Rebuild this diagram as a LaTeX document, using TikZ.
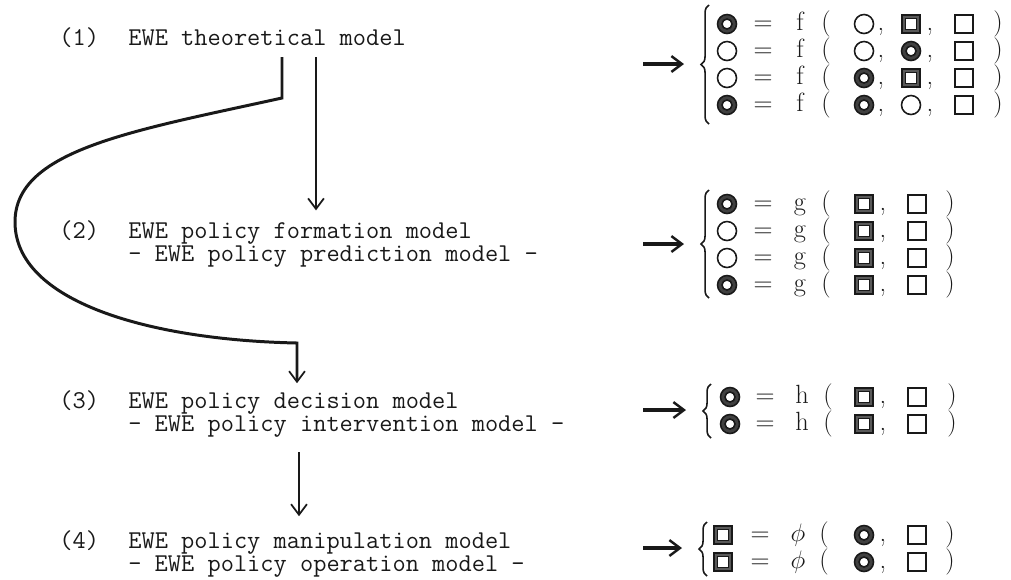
\documentclass[tikz,border=0pt]{standalone}
\usepackage{tikz}
\usetikzlibrary{arrows.meta,decorations.pathreplacing}

% variable symbols of the equation systems
\newcommand{\symocirc}[1]{\draw[symline, shift={#1}] (0,0) circle (9.5);}
\newcommand{\symbcirc}[1]{\filldraw[symline, fill=black!75, even odd rule, shift={#1}]
    (0,0) circle (9.5) (0,0) circle (5);}
\newcommand{\symosq}[1]{\draw[symline, shift={#1}] (-9,-9) rectangle (9,9);}
\newcommand{\symdsq}[1]{\filldraw[symline, fill=black!65, even odd rule, shift={#1}]
    (-9,-9) rectangle (9,9) (-5.5,-5.5) rectangle (5.5,5.5);}

\begin{document}
\begin{tikzpicture}[
    x=0.02cm, y=-0.02cm,
    lbl/.style={font=\fontsize{14.6}{18}\ttfamily, inner sep=0pt, anchor=west,
                text height=0.58em, text depth=0.18em, text=black!90},
    eqt/.style={font=\fontsize{15}{17}\selectfont, inner sep=0pt, anchor=base,
                text=black!90},
    symline/.style={draw=black!90, line width=0.9pt},
    flow/.style={-{Straight Barb[length=6pt, width=9pt, line width=1pt]},
                 line width=1.2pt, draw=black!90},
    bypass/.style={flow, line width=1.7pt},
    into/.style={-{Straight Barb[length=6pt, width=9pt, line width=1.4pt]},
                 line width=2pt, draw=black!90},
    brc/.style={decorate, decoration={brace, amplitude=4.5pt}, line width=0.9pt,
                draw=black!90},
]
\useasboundingbox (0,0) rectangle (1011,579);

%% -- model levels (left column) ------------------------------------------
\node[lbl] (n1)  at (59,42)   {(1)};
\node[lbl] (t1)  at (128,42)  {EWE theoretical model};
\node[lbl] (n2)  at (59,235)  {(2)};
\node[lbl] (t2)  at (128,235) {EWE policy formation model};
\node[lbl] (t2b) at (128,258) {- EWE policy prediction model -};
\node[lbl] (n3)  at (59,405)  {(3)};
\node[lbl] (t3)  at (128,405) {EWE policy decision model};
\node[lbl] (t3b) at (128,428) {- EWE policy intervention model -};
\node[lbl] (n4)  at (59,545)  {(4)};
\node[lbl] (t4)  at (128,545) {EWE policy manipulation model};
\node[lbl] (t4b) at (128,568) {- EWE policy operation model -};

% bends of the connectors
\coordinate (kink)  at (282,98);
\coordinate (elbow) at (297,343);
\coordinate (xs)    at (316,0);
\coordinate (xd)    at (299,0);

\draw[flow, shorten <=4.6pt, shorten >=10pt] (t1.south -| xs) -- (t2.north -| xs);
\draw[bypass, shorten <=4.6pt, shorten >=8.4pt] (t1.south -| kink) -- (kink)
    .. controls (132,131) and (15,150) .. (15,222)
    .. controls (15,302) and (150,340) .. (elbow) -- (t3.north -| elbow);
\draw[flow, shorten <=9.7pt, shorten >=12.4pt] (t3b.south -| xd) -- (t4.north -| xd);

%% -- equation systems (right column) -------------------------------------
\coordinate (a1) at (643,64);  \coordinate (h1) at (684,64);
\coordinate (a2) at (643,244); \coordinate (h2) at (684,244);
\coordinate (a3) at (643,410); \coordinate (h3) at (686,410);
\coordinate (a4) at (643,548); \coordinate (h4) at (682,548);
\foreach \i in {1,...,4}
  \draw[into] (a\i) -- (h\i);

\draw[brc] (709,124) -- (709,5);
\draw[brc] (709,298) -- (709,190);
\draw[brc] (711,438) -- (711,384);
\draw[brc] (707,576) -- (707,522);

% (1) f
\foreach \r/\y/\s/\p/\q in {1/24/bcirc/ocirc/dsq, 2/51/ocirc/ocirc/bcirc,
                            3/78/ocirc/bcirc/dsq, 4/105/bcirc/bcirc/ocirc}{
  \csname sym\s\endcsname{(727,\y)}
  \csname sym\p\endcsname{(864,\y)}
  \csname sym\q\endcsname{(911,\y)}
  \symosq{(964,\y)}
  \node[eqt] (fq\r) at (763,\y+6) {=};
  \node[eqt] (fn\r) at (800,\y+6) {f};
  \node[eqt] (fl\r) at (826,\y+6) {(};
  \node[eqt] (fc\r) at (881,\y+6) {,};
  \node[eqt] (fk\r) at (930,\y+6) {,};
  \node[eqt] (fr\r) at (998,\y+6) {)};
}

% (2) g
\foreach \r/\y/\s in {1/204/bcirc, 2/231/ocirc, 3/258/ocirc, 4/285/bcirc}{
  \csname sym\s\endcsname{(727,\y)}
  \symdsq{(864,\y)}
  \symosq{(917,\y)}
  \node[eqt] (gq\r) at (763,\y+6) {=};
  \node[eqt] (gn\r) at (800,\y+6) {g};
  \node[eqt] (gl\r) at (826,\y+6) {(};
  \node[eqt] (gc\r) at (883,\y+6) {,};
  \node[eqt] (gr\r) at (950,\y+6) {)};
}

% (3) h
\foreach \r/\y in {1/397, 2/424}{
  \symbcirc{(730,\y)}
  \symdsq{(864,\y)}
  \symosq{(917,\y)}
  \node[eqt] (hq\r) at (765,\y+6) {=};
  \node[eqt] (hn\r) at (802,\y+6) {h};
  \node[eqt] (hl\r) at (828,\y+6) {(};
  \node[eqt] (hc\r) at (883,\y+6) {,};
  \node[eqt] (hr\r) at (952,\y+6) {)};
}

% (4) phi
\foreach \r/\y in {1/535, 2/562}{
  \symdsq{(723,\y)}
  \symbcirc{(864,\y)}
  \symosq{(917,\y)}
  \node[eqt] (pq\r) at (760,\y+6) {=};
  \node[eqt] (pn\r) at (798,\y+6) {$\phi$};
  \node[eqt] (pl\r) at (824,\y+6) {(};
  \node[eqt] (pc\r) at (883,\y+6) {,};
  \node[eqt] (pr\r) at (950,\y+6) {)};
}

\end{tikzpicture}
\end{document}
